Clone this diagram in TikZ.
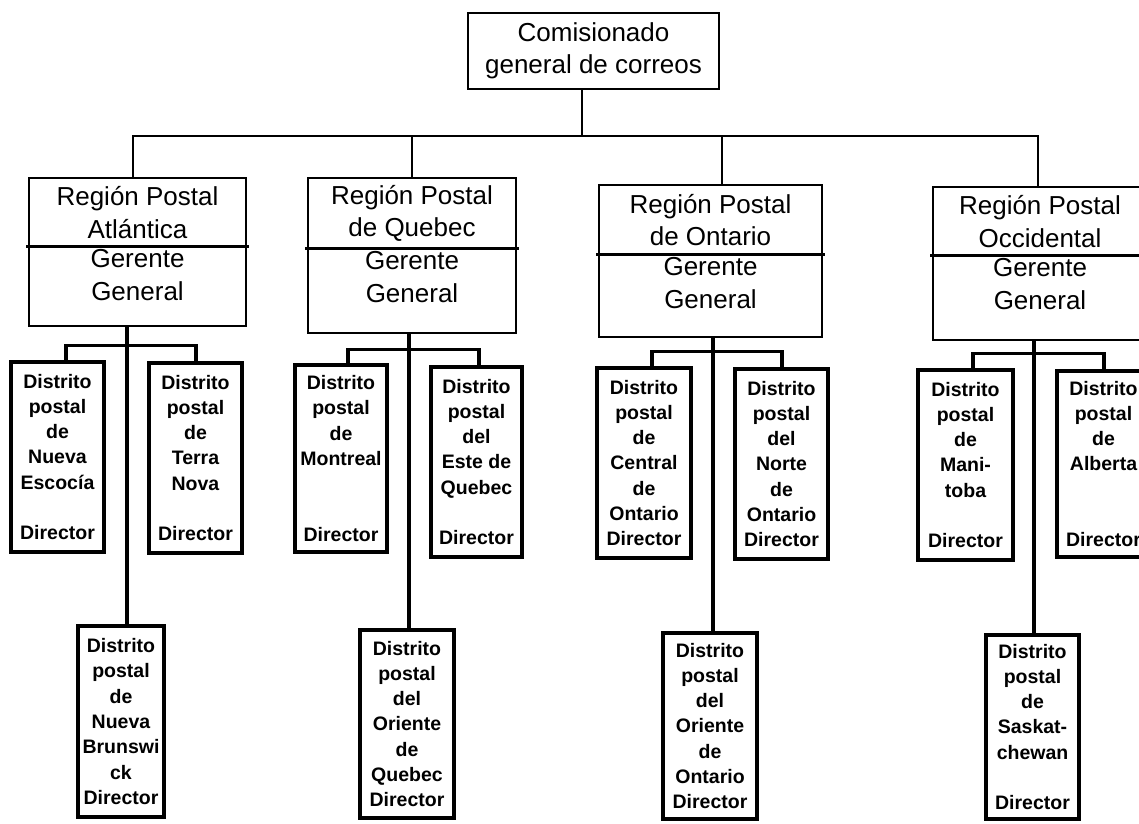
\documentclass[tikz,border=0pt]{standalone}
\usepackage{fontspec}
\setmainfont{Liberation Sans}
\begin{document}
\begin{tikzpicture}[x=1pt,y=-1pt,
  big/.style={font=\fontsize{26}{32.5}\selectfont, align=center, inner sep=0pt},
  box/.style={draw, line width=1.4pt, inner sep=0pt},
  dist/.style={draw, line width=3.1pt, inner sep=0pt, align=center, font=\bfseries\fontsize{19.5}{25.3}\selectfont},
  thn/.style={line width=1.4pt},
  thk/.style={line width=3.2pt},
  divl/.style={line width=2.8pt}]
\useasboundingbox (0,0) rectangle (1139,823);
\clip (0,0) rectangle (1139,823);

% top
\node[box, big, minimum width=251pt, minimum height=76pt] (com) at (593.5,51) {Comisionado\\general de correos};

% regions
\node[box, big, minimum width=217pt, minimum height=69pt] (atlU) at (137.5,212.5) {Región Postal\\Atlántica};
\node[box, minimum width=217pt, minimum height=79pt] (atlL) at (137.5,286.5) {};
\draw[divl] ([xshift=-2pt]atlL.north west) -- ([xshift=2pt]atlL.north east);
\node[big, anchor=north] (atlG) at ([yshift=-3pt]atlL.north) {Gerente\\General};

\node[box, big, minimum width=208pt, minimum height=71pt] (queU) at (412,213.5) {Región Postal\\de Quebec};
\node[box, minimum width=208pt, minimum height=84pt] (queL) at (412,291) {};
\draw[divl] ([xshift=-2pt]queL.north west) -- ([xshift=2pt]queL.north east);
\node[big, anchor=north] (queG) at ([yshift=-3pt]queL.north) {Gerente\\General};

\node[box, big, minimum width=223pt, minimum height=70pt] (ontU) at (710.5,220) {Región Postal\\de Ontario};
\node[box, minimum width=223pt, minimum height=82pt] (ontL) at (710.5,296) {};
\draw[divl] ([xshift=-2pt]ontL.north west) -- ([xshift=2pt]ontL.north east);
\node[big, anchor=north] (ontG) at ([yshift=-3pt]ontL.north) {Gerente\\General};

\node[box, big, minimum width=214pt, minimum height=69pt] (occU) at (1040,221.5) {Región Postal\\Occidental};
\node[box, minimum width=214pt, minimum height=84pt] (occL) at (1040,298) {};
\draw[divl] ([xshift=-2pt]occL.north west) -- ([xshift=2pt]occL.north east);
\node[big, anchor=north] (occG) at ([yshift=-3pt]occL.north) {Gerente\\General};

% top connectors
\coordinate (busA) at (133,136);
\coordinate (busQ) at (412,136);
\coordinate (busO) at (722,136);
\coordinate (busW) at (1038,136);
\coordinate (comD) at ([xshift=-11.5pt]com.south);
\draw[thn] (comD) -- (comD |- busA);
\draw[thn] (atlU.north -| busA) -- (busA) -- (busW) -- (occU.north -| busW);
\draw[thn] (busQ) -- (queU.north -| busQ);
\draw[thn] (busO) -- (ontU.north -| busO);

% districts: Atlantic
\node[dist, minimum width=93pt, minimum height=190pt] (atlA) at (57.5,457) {Distrito\\postal\\de\\Nueva\\Escocía\\~\\Director};
\node[dist, minimum width=93pt, minimum height=190pt] (atlB) at (195.5,458) {Distrito\\postal\\de\\Terra\\Nova\\~\\Director};
\node[dist, minimum width=86pt, minimum height=191pt] (atlC) at (121,721.5) {Distrito\\postal\\de\\Nueva\\Brunswi\\ck\\Director};

% Quebec
\node[dist, minimum width=92pt, minimum height=187pt] (queA) at (341,458.5) {Distrito\\postal\\de\\Montreal\\~\\~\\Director};
\node[dist, minimum width=91pt, minimum height=190pt] (queB) at (476.5,462) {Distrito\\postal\\del\\Este de\\Quebec\\~\\Director};
\node[dist, minimum width=94pt, minimum height=188pt] (queC) at (407,724) {Distrito\\postal\\del\\Oriente\\de\\Quebec\\Director};

% Ontario
\node[dist, minimum width=94pt, minimum height=190pt] (ontA) at (644,463) {Distrito\\postal\\de\\Central\\de\\Ontario\\Director};
\node[dist, minimum width=93pt, minimum height=190pt] (ontB) at (781.5,464) {Distrito\\postal\\del\\Norte\\de\\Ontario\\Director};
\node[dist, minimum width=94pt, minimum height=186pt] (ontC) at (710,726) {Distrito\\postal\\del\\Oriente\\de\\Ontario\\Director};

% Occidental
\node[dist, minimum width=95pt, minimum height=190pt] (occA) at (965.5,465) {Distrito\\postal\\de\\Mani-\\toba\\~\\Director};
\node[dist, minimum width=93pt, minimum height=186pt] (occB) at (1103.5,464) {Distrito\\postal\\de\\Alberta\\~\\~\\Director};
\node[dist, minimum width=93pt, minimum height=184pt] (occC) at (1032.5,727) {Distrito\\postal\\de\\Saskat-\\chewan\\~\\Director};

% trunks
\coordinate (atlT) at ([xshift=6pt]atlC.north);
\coordinate (queT) at ([xshift=2pt]queC.north);
\coordinate (ontT) at ([xshift=3pt]ontC.north);
\coordinate (occT) at ([xshift=1.5pt]occC.north);
\draw[thk] (atlL.south -| atlT) -- (atlT);
\draw[thk] (queL.south -| queT) -- (queT);
\draw[thk] (ontL.south -| ontT) -- (ontT);
\draw[thk] (occL.south -| occT) -- (occT);

% brackets
\draw[thk] ([xshift=8.5pt]atlA.north) -- ++(0,-15) -| ([xshift=0.5pt]atlB.north);
\draw[thk] ([xshift=7pt]queA.north) -- ++(0,-14) -| ([xshift=2.5pt]queB.north);
\draw[thk] ([xshift=8pt]ontA.north) -- ++(0,-15) -| ([xshift=0.5pt]ontB.north);
\draw[thk] ([xshift=7.5pt]occA.north) -- ++(0,-15) -| ([xshift=0.5pt]occB.north);
\end{tikzpicture}
\end{document}
